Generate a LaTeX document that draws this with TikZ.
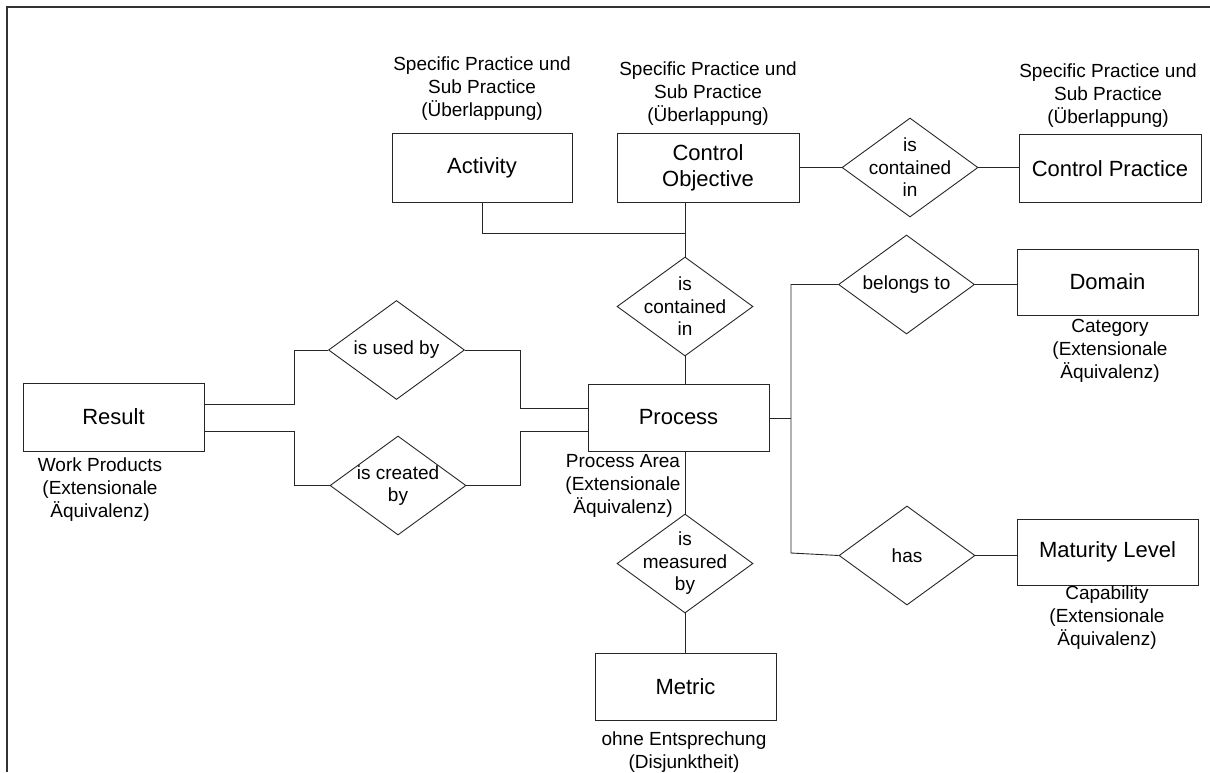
\documentclass[tikz,border=0pt]{standalone}
\usepackage{fontspec}
\setmainfont{Liberation Sans}
\usetikzlibrary{shapes.geometric}
\begin{document}
\begin{tikzpicture}[x=1pt,y=-1pt,
  ent/.style={draw=black!85, line width=0.9pt, minimum width=181pt, minimum height=67pt, inner sep=0pt, align=center, font=\fontsize{22}{26}\selectfont},
  rel/.style={draw=black!85, diamond, minimum width=136pt, minimum height=99pt, inner sep=0pt, line width=0.9pt},
  rellab/.style={align=center, font=\fontsize{19}{22.5}\selectfont, inner sep=0pt},
  note/.style={align=center, font=\fontsize{19}{23}\selectfont, inner sep=0pt},
  conn/.style={draw=black!85, line width=0.9pt},
  frame/.style={draw=black!80, line width=1.5pt}]
\useasboundingbox (0,0) rectangle (1210,772);
% partial frame
\coordinate (fbl) at (7,772);
\coordinate (ftl) at (7,7);
\coordinate (ftr) at (1210,7);
\draw[frame] (fbl) -- (ftl) -- (ftr);

% entities
\node[ent, minimum width=180pt, minimum height=69pt] (act) at (482,167.5) {Activity};
\node[ent, minimum width=182pt, minimum height=69pt] (co) at (708,167.5) {Control\\Objective};
\node[ent, minimum width=182pt, minimum height=68pt] (cp) at (1110,168.5) {Control Practice};
\node[ent] (proc) at (678.5,417.5) {Process};
\node[ent, minimum height=68pt] (res) at (113.5,417) {Result};
\node[ent, minimum height=66pt] (dom) at (1107.5,282) {Domain};
\node[ent, minimum height=66pt] (mat) at (1107.5,552) {Maturity Level};
\node[ent] (met) at (685.5,686.5) {Metric};

% relationships
\node[rel] (dc1) at (910,167.5) {};
\node[rellab] (dc1t) at (dc1) {is\\contained\\in};
\node[rel] (dc2) at (685,306.5) {};
\node[rellab] (dc2t) at (dc2) {is\\contained\\in};
\node[rel] (dbel) at (906.5,284.5) {};
\node[rellab] (dbelt) at (dbel) {belongs to};
\node[rel] (dhas) at (907,555.5) {};
\node[rellab] (dhast) at (dhas) {has};
\node[rel] (duse) at (396.5,350) {};
\node[rellab] (duset) at (duse) {is used by};
\node[rel] (dcre) at (398,485.5) {};
\node[rellab] (dcret) at (dcre) {is created\\by};
\node[rel] (dmea) at (685,563.5) {};
\node[rellab] (dmeat) at (dmea) {is\\measured\\by};

% notes
\node[note] (actn) at (482,88.5) {Specific Practice und\\Sub Practice\\(Überlappung)};
\node[note] (con) at (708,93.5) {Specific Practice und\\Sub Practice\\(Überlappung)};
\node[note] (cpn) at (1108,96) {Specific Practice und\\Sub Practice\\(Überlappung)};
\node[note] (resn) at (100,490) {Work Products\\(Extensionale\\Äquivalenz)};
\node[note] (procn) at (623,486) {Process Area\\(Extensionale\\Äquivalenz)};
\node[note] (domn) at (1110,351) {Category\\(Extensionale\\Äquivalenz)};
\node[note] (matn) at (1107,618) {Capability\\(Extensionale\\Äquivalenz)};
\node[note] (metn) at (684,752.5) {ohne Entsprechung\\(Disjunktheit)};

% helper coordinates
\coordinate (jtop) at (685,233.5);
\coordinate (busA) at (791,418);
\coordinate (busT) at (791,284.5);
\coordinate (busB) at (791,553);
\coordinate (uL) at (294,350);
\coordinate (uR) at (520,350);
\coordinate (cL) at (294,485.5);
\coordinate (cR) at (520,485.5);

% connectors
\draw[conn] (act.south) |- (jtop);
\draw[conn] (dc2.north) -- (dc2.north |- co.south);
\draw[conn] (co.east |- dc1.west) -- (dc1.west);
\draw[conn] (dc1.east) -- (cp.west |- dc1.east);
\draw[conn] (dc2.south) -- (dc2.south |- proc.north);
\draw[conn] (dmea.north) -- (dmea.north |- proc.south);
\draw[conn] (dmea.south) -- (dmea.south |- met.north);
\draw[conn] (proc.east |- busA) -- (busA);
\draw[conn] (dbel.west) -- (busT) -- (busB) -- (dhas.west);
\draw[conn] (dbel.east) -- (dom.west |- dbel.east);
\draw[conn] (dhas.east) -- (mat.west |- dhas.east);
\draw[conn] ([yshift=13pt]res.east) -| (uL) -- (duse.west);
\draw[conn] (duse.east) -- (uR) |- ([yshift=9.5pt]proc.west);
\draw[conn] ([yshift=-14pt]res.east) -| (cL) -- (dcre.west);
\draw[conn] (dcre.east) -- (cR) |- ([yshift=-13.5pt]proc.west);
\end{tikzpicture}
\end{document}
